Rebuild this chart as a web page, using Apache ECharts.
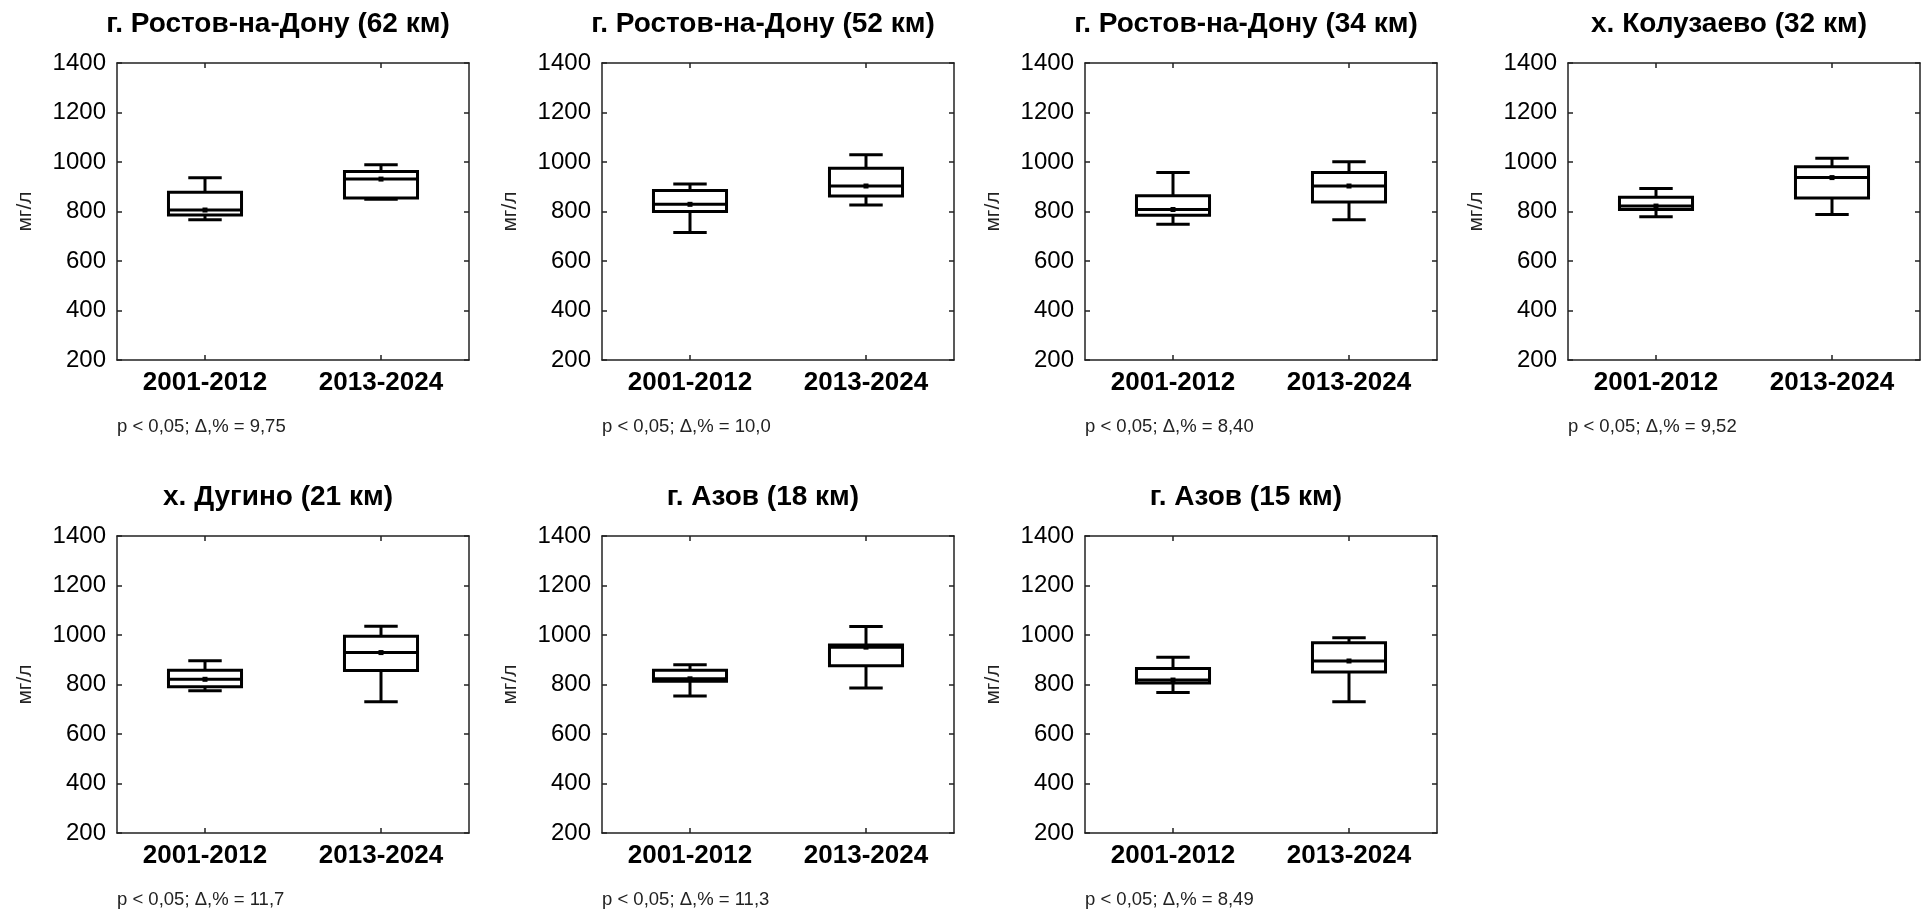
<!DOCTYPE html>
<html><head><meta charset="utf-8">
<script src="https://cdn.jsdelivr.net/npm/echarts@6/dist/echarts.min.js"></script>
<style>html,body{margin:0;padding:0;background:#fff}#c{width:1923px;height:911px}</style>
</head><body><div id="c"></div><script>
const stations = ['г. Ростов-на-Дону (62 км)', 'г. Ростов-на-Дону (52 км)', 'г. Ростов-на-Дону (34 км)', 'х. Колузаево (32 км)', 'х. Дугино (21 км)', 'г. Азов (18 км)', 'г. Азов (15 км)'];
const notes = ['p < 0,05; Δ,% = 9,75', 'p < 0,05; Δ,% = 10,0', 'p < 0,05; Δ,% = 8,40', 'p < 0,05; Δ,% = 9,52', 'p < 0,05; Δ,% = 11,7', 'p < 0,05; Δ,% = 11,3', 'p < 0,05; Δ,% = 8,49'];
const periods = ['2001-2012', '2013-2024'];
const yUnit = 'мг/л';
const yMin = 200, yMax = 1400, yStep = 200;
// 2001-2012: min, Q1, median, Q3, max
const minA = [767, 715, 748, 779, 775, 754, 768];
const q1A  = [786, 800, 785, 808, 791, 813, 806];
const medA = [806, 829, 808, 822, 821, 823, 818];
const q3A  = [878, 885, 864, 858, 858, 858, 865];
const maxA = [936, 911, 958, 893, 896, 880, 910];
// 2013-2024
const minB = [849, 826, 767, 788, 730, 786, 730];
const q1B  = [855, 863, 838, 855, 857, 876, 851];
const medB = [931, 903, 903, 937, 929, 951, 895];
const q3B  = [962, 975, 958, 981, 995, 960, 969];
const maxB = [989, 1029, 1001, 1015, 1035, 1034, 989];

const FONT = "'Liberation Sans', Arial, sans-serif";
const lefts = [117, 602, 1085, 1568];
const tops = [63, 536];
const W = 352, H = 297;
const axisColor = '#222';

function renderBox(params, api) {
  const cat = api.value(0);
  const band = api.size([1, 0])[0];
  const bw = band * 0.415, cw = band * 0.19;
  const pMin = api.coord([cat, api.value(1)]);
  const pQ1 = api.coord([cat, api.value(2)]);
  const pMd = api.coord([cat, api.value(3)]);
  const pQ3 = api.coord([cat, api.value(4)]);
  const pMax = api.coord([cat, api.value(5)]);
  const x = pMd[0];
  const st = { stroke: '#000', lineWidth: 3, fill: null };
  return {
    type: 'group',
    children: [
      { type: 'line', shape: { x1: x, y1: pMax[1], x2: x, y2: pQ3[1] }, style: st },
      { type: 'line', shape: { x1: x, y1: pQ1[1], x2: x, y2: pMin[1] }, style: st },
      { type: 'line', shape: { x1: x - cw / 2, y1: pMax[1], x2: x + cw / 2, y2: pMax[1] }, style: st },
      { type: 'line', shape: { x1: x - cw / 2, y1: pMin[1], x2: x + cw / 2, y2: pMin[1] }, style: st },
      { type: 'rect', shape: { x: x - bw / 2, y: pQ3[1], width: bw, height: pQ1[1] - pQ3[1] }, style: st },
      { type: 'line', shape: { x1: x - bw / 2, y1: pMd[1], x2: x + bw / 2, y2: pMd[1] }, style: st },
      { type: 'rect', shape: { x: x - 2.5, y: pMd[1] - 2.5, width: 5, height: 5 }, style: { fill: '#000' } }
    ]
  };
}

const grid = [], xAxis = [], yAxis = [], series = [], graphic = [];
stations.forEach((name, i) => {
  const col = i % 4, row = Math.floor(i / 4);
  const L = lefts[col], T = tops[row];
  grid.push({ left: L, top: T, width: W, height: H });
  const lineStyle = { color: axisColor, width: 1.5 };
  const tick = { show: true, inside: true, length: 5, lineStyle: lineStyle };
  xAxis.push({
    gridIndex: i, type: 'category', data: periods, position: 'bottom',
    axisLine: { show: true, lineStyle: lineStyle },
    axisTick: Object.assign({ alignWithLabel: true }, tick),
    axisLabel: { fontSize: 26, fontWeight: 'bold', color: '#000', margin: 10, fontFamily: FONT },
    splitLine: { show: false }
  });
  xAxis.push({
    gridIndex: i, type: 'category', data: periods, position: 'top',
    axisLine: { show: true, lineStyle: lineStyle },
    axisTick: Object.assign({ alignWithLabel: true }, tick),
    axisLabel: { show: false }, splitLine: { show: false }
  });
  yAxis.push({
    gridIndex: i, type: 'value', min: yMin, max: yMax, interval: yStep, position: 'left',
    axisLine: { show: true, lineStyle: lineStyle }, axisTick: tick,
    axisLabel: { fontSize: 24, color: '#000', margin: 11, fontFamily: FONT, formatter: v => String(v) },
    splitLine: { show: false }
  });
  yAxis.push({
    gridIndex: i, type: 'value', min: yMin, max: yMax, interval: yStep, position: 'right',
    axisLine: { show: true, lineStyle: lineStyle }, axisTick: tick,
    axisLabel: { show: false }, splitLine: { show: false }
  });
  series.push({
    type: 'custom', xAxisIndex: 2 * i, yAxisIndex: 2 * i,
    renderItem: renderBox,
    encode: { x: 0, y: [1, 2, 3, 4, 5] },
    data: [
      [0, minA[i], q1A[i], medA[i], q3A[i], maxA[i]],
      [1, minB[i], q1B[i], medB[i], q3B[i], maxB[i]]
    ],
    silent: true, animation: false
  });
  graphic.push({
    type: 'text', x: L + W / 2 - 15, y: T - 39,
    style: { text: name, font: 'bold 28px ' + FONT, fill: '#000', textAlign: 'center', textVerticalAlign: 'middle' }
  });
  graphic.push({
    type: 'text', x: L - 92, y: T + H / 2, rotation: Math.PI / 2,
    style: { text: yUnit, font: '21px ' + FONT, fill: '#222', textAlign: 'center', textVerticalAlign: 'middle' }
  });
  graphic.push({
    type: 'text', x: L, y: T + 364,
    style: { text: notes[i], font: '18.5px ' + FONT, fill: '#222', textAlign: 'left', textVerticalAlign: 'middle' }
  });
});

const chart = echarts.init(document.getElementById('c'), null, { renderer: 'canvas' });
chart.setOption({ animation: false, backgroundColor: '#fff', grid, xAxis, yAxis, series, graphic });
</script></body></html>
